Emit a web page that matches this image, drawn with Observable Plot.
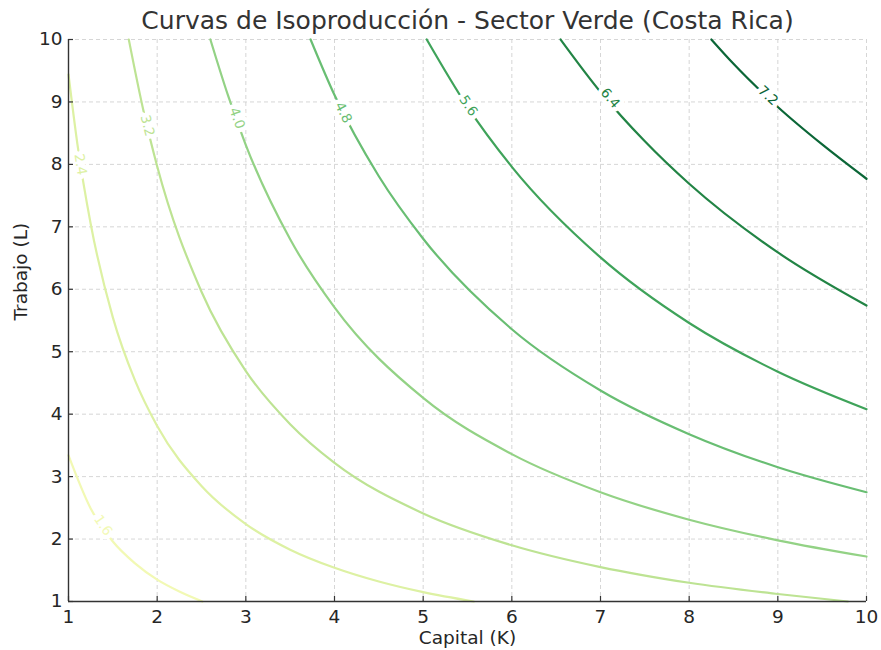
<!DOCTYPE html>
<html>
<head>
<meta charset="utf-8">
<script src="https://cdn.jsdelivr.net/npm/d3@7"></script>
<script src="https://cdn.jsdelivr.net/npm/@observablehq/plot@0.6"></script>
<style>
  body { margin: 0; background: #fff; }
  #chart svg { font-family: "DejaVu Sans", sans-serif; }
</style>
</head>
<body>
<div id="chart"></div>
<script>
// Isoquant levels (production Q)
const levels = [1.6, 2.4, 3.2, 4.0, 4.8, 5.6, 6.4, 7.2];
const lineColors = ["#f2f9b4", "#ddf1a3", "#bde393", "#93d285", "#69be73", "#3fa35a", "#228445", "#0b6637"];

// Points read from each isoquant: [Capital K, Trabajo L]
const curve16 = [[1, 3.34], [1.25, 2.49], [1.5, 1.96], [1.75, 1.61], [2, 1.35], [2.25, 1.16], [2.51, 1.0]];
const curve24 = [[1, 9.44], [1.1, 8.33], [1.25, 7.05], [1.5, 5.55], [1.75, 4.54], [2, 3.81], [2.5, 2.85], [3, 2.24], [3.5, 1.83], [4, 1.54], [4.5, 1.32], [5, 1.15], [5.57, 1.0]];
const curve32 = [[1.68, 10], [1.85, 8.83], [2, 7.97], [2.5, 5.96], [3, 4.69], [3.5, 3.84], [4, 3.22], [5, 2.41], [6, 1.9], [7, 1.55], [8, 1.3], [9, 1.12], [9.79, 1.0]];
const curve40 = [[2.6, 10], [2.8, 9.1], [3, 8.31], [3.5, 6.8], [4, 5.71], [5, 4.26], [6, 3.36], [7, 2.75], [8, 2.31], [9, 1.98], [10, 1.72]];
const curve48 = [[3.73, 10], [4, 9.11], [4.5, 7.81], [5, 6.81], [6, 5.36], [7, 4.38], [8, 3.68], [9, 3.15], [10, 2.75]];
const curve56 = [[5.04, 10], [5.5, 8.92], [6, 7.96], [7, 6.51], [8, 5.46], [9, 4.68], [10, 4.08]];
const curve64 = [[6.55, 10], [7, 9.16], [7.5, 8.37], [8, 7.69], [9, 6.59], [10, 5.74]];
const curve72 = [[8.25, 10], [8.5, 9.61], [9, 8.92], [9.5, 8.32], [10, 7.77]];
const curves = [curve16, curve24, curve32, curve40, curve48, curve56, curve64, curve72];

// Inline label positions on each isoquant
const labelK = [1.39, 1.135, 1.89, 2.9, 4.1, 5.51, 7.11, 8.89];
const labelL = [2.22, 8.0, 8.62, 8.74, 8.83, 8.94, 9.06, 9.1];
const labelAngle = [56, 81, 76, 70, 63, 56, 50, 43];

const ticks = [1, 2, 3, 4, 5, 6, 7, 8, 9, 10];
const title = "Curvas de Isoproducción - Sector Verde (Costa Rica)";
const xLabel = "Capital (K)";
const yLabel = "Trabajo (L)";

const linePoints = [];
curves.forEach((c, i) => c.forEach(([k, l]) => linePoints.push({K: k, L: l, level: levels[i]})));
const labels = levels.map((lv, i) => ({K: labelK[i], L: labelL[i], level: lv, angle: labelAngle[i], text: lv.toFixed(1)}));

const chart = Plot.plot({
  width: 881,
  height: 650,
  marginTop: 39,
  marginBottom: 49,
  marginLeft: 68,
  marginRight: 15,
  style: {fontFamily: "DejaVu Sans, sans-serif", fontSize: "18px", color: "#262626", background: "#fff"},
  x: {domain: [1, 10]},
  y: {domain: [1, 10]},
  color: {type: "ordinal", domain: levels, range: lineColors},
  marks: [
    Plot.gridX(ticks, {stroke: "#cccccc", strokeOpacity: 1, strokeWidth: 0.8, strokeDasharray: "4,3"}),
    Plot.gridY(ticks, {stroke: "#cccccc", strokeOpacity: 1, strokeWidth: 0.8, strokeDasharray: "4,3"}),
    Plot.line(linePoints, {x: "K", y: "L", z: "level", stroke: "level", strokeWidth: 2.2, curve: "monotone-x"}),
    Plot.text(labels, {x: "K", y: "L", text: "text", rotate: "angle", fill: "level", stroke: "white", strokeWidth: 9, fontSize: 13.5}),
    Plot.ruleX([1], {stroke: "#333", strokeWidth: 1.4}),
    Plot.ruleY([1], {stroke: "#333", strokeWidth: 1.4}),
    Plot.axisX(ticks, {tickSize: -5, text: null, stroke: "#333", strokeWidth: 1.2, label: null}),
    Plot.axisY(ticks, {tickSize: -5, text: null, stroke: "#333", strokeWidth: 1.2, label: null}),
    Plot.axisX(ticks, {tickSize: 0, tickPadding: 8, tickFormat: d => String(d), fontSize: 18.5, fill: "#262626", label: null}),
    Plot.axisY(ticks, {tickSize: 0, tickPadding: 6, tickFormat: d => String(d), fontSize: 18.5, fill: "#262626", label: null}),
    Plot.text([xLabel], {text: d => d, frameAnchor: "bottom", lineAnchor: "middle", dy: 37, fontSize: 18.5, fill: "#262626"}),
    Plot.text([yLabel], {text: d => d, frameAnchor: "left", lineAnchor: "middle", dx: -47, rotate: -90, fontSize: 18.5, fill: "#262626"}),
    Plot.text([title], {text: d => d, frameAnchor: "top", lineAnchor: "middle", dy: -19, fontSize: 25, fill: "#333"})
  ]
});
document.getElementById("chart").appendChild(chart);
</script>
</body>
</html>
